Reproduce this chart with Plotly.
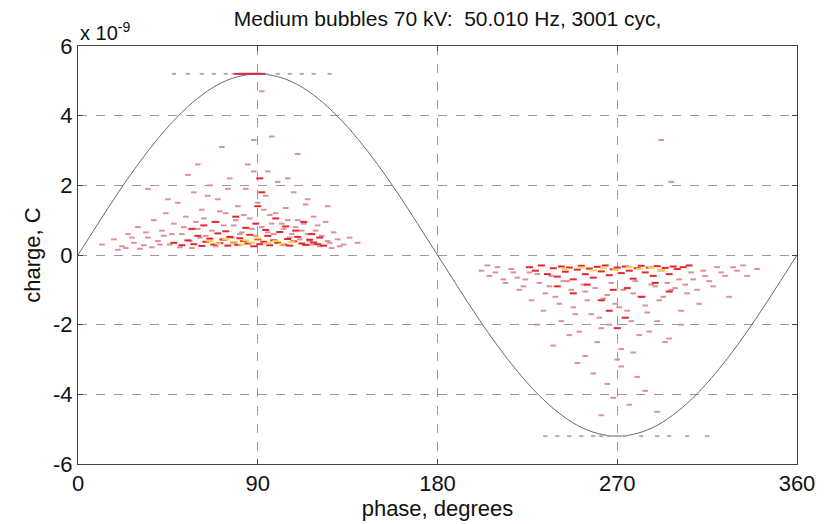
import plotly.graph_objects as go

TITLE = "Medium bubbles 70 kV:  50.010 Hz, 3001 cyc,"
X_LABEL = "phase, degrees"
Y_LABEL = "charge, C"
x_ticks = [0, 90, 180, 270, 360]
y_ticks = [-6, -4, -2, 0, 2, 4, 6]

# reference sine (charge in units of 1e-9 C)
sine_phase = [0, 10, 20, 30, 40, 50, 60, 70, 80, 90, 100, 110, 120, 130, 140, 150, 160, 170, 180,
              190, 200, 210, 220, 230, 240, 250, 260, 270, 280, 290, 300, 310, 320, 330, 340, 350, 360]
sine_charge = [0, 0.90, 1.78, 2.60, 3.34, 3.98, 4.50, 4.89, 5.12, 5.20, 5.12, 4.89, 4.50, 3.98, 3.34, 2.60, 1.78, 0.90, 0,
               -0.90, -1.78, -2.60, -3.34, -3.98, -4.50, -4.89, -5.12, -5.20, -5.12, -4.89, -4.50, -3.98, -3.34, -2.60, -1.78, -0.90, 0]

# low-count pulses (light)
light_phase = [12, 18, 22, 25, 28, 30, 33, 35, 38, 40, 42, 44, 46, 48, 50, 52, 54, 56, 58, 60, 62, 64, 66, 68, 70,
               72, 74, 76, 78, 80, 82, 84, 86, 88, 90, 92, 94, 96, 98, 100, 102, 104, 106, 108, 110, 112, 114, 116,
               118, 120, 122, 124, 126, 128, 130, 133, 136, 140,
               35, 45, 55, 65, 75, 85, 95, 105, 115, 125, 60, 72, 88, 92, 97, 110,
               20, 24, 27, 31, 34, 37, 41, 43, 47, 51, 53, 57, 59, 61, 63, 67, 69, 71, 73, 77,
               79, 81, 83, 87, 89, 93, 95, 97, 99, 103, 105, 107, 109, 111, 113, 115, 117, 119, 121, 125, 127, 131,
               202, 206, 210, 214, 218, 221, 224, 227, 230, 233, 236, 239, 242, 245, 248, 251, 254, 257, 260, 263,
               266, 269, 272, 275, 278, 281, 284, 287, 290, 293, 296, 299, 302, 305, 308, 311, 314, 318, 322, 326,
               330, 335, 340,
               230, 238, 246, 254, 262, 270, 278, 286, 294, 302, 258, 265, 272, 280, 250, 268, 276, 284, 262, 290,
               205, 209, 213, 217, 220, 223, 226, 231, 234, 237, 241, 243, 247, 249, 253, 255, 259, 261, 265, 267,
               271, 273, 277, 279, 283, 285, 289, 291, 295, 297, 301, 304, 307, 310, 313, 316, 320, 324, 328, 333,
               292, 297]
light_charge = [0.3, 0.45, 0.25, 0.6, 0.35, 0.8, 0.28, 0.5, 1.0, 0.4, 0.7, 1.2, 0.3, 0.9, 1.5, 0.6, 1.1, 0.4, 1.8,
                0.75, 1.3, 0.55, 2.0, 0.95, 1.6, 0.45, 1.2, 2.2, 0.85, 1.4, 0.65, 1.9, 1.05, 2.4, 1.5, 0.8, 1.7,
                1.15, 0.6, 2.1, 0.9, 1.35, 0.5, 1.8, 1.0, 0.7, 1.45, 0.4, 1.1, 0.85, 0.55, 0.95, 0.35, 0.65, 0.45,
                0.3, 0.5, 0.35,
                1.9, 1.6, 2.3, 1.7, 1.9, 2.6, 2.4, 2.2, 1.6, 1.4, 2.6, 3.1, 3.3, 4.7, 3.4, 2.9,
                0.15, 0.2, 0.5, 0.18, 0.65, 0.22, 0.3, 0.55, 0.6, 0.22, 0.8, 0.2, 0.95, 0.5, 1.05, 0.7, 0.25, 1.25,
                0.85, 0.5, 1.0, 0.6, 1.15, 0.75, 0.55, 1.3, 0.65, 0.9, 1.2, 0.75, 1.0, 0.6, 0.8, 0.45, 0.9, 0.6,
                0.3, 0.7, 0.25, 0.4, 0.2, 0.25,
                -0.45, -0.6, -0.35, -0.8, -0.5, -1.0, -0.7, -1.3, -0.55, -1.6, -0.9, -1.2, -1.9, -0.75, -1.5, -2.2,
                -1.05, -1.7, -2.5, -1.25, -2.0, -1.4, -2.7, -1.6, -1.1, -2.3, -1.45, -0.85, -1.9, -1.2, -2.4, -0.95,
                -1.6, -1.1, -0.7, -1.4, -0.6, -0.9, -0.5, -1.2, -0.45, -0.6, -0.4,
                -2.0, -2.6, -2.3, -2.9, -2.1, -3.0, -2.8, -2.2, -2.5, -2.0, -3.4, -3.7, -3.2, -3.5, -3.1, -4.1,
                -4.3, -3.9, -4.6, -4.5,
                -0.3, -0.5, -0.7, -0.4, -0.65, -0.9, -0.5, -0.8, -1.1, -0.6, -1.4, -0.75, -1.0, -1.7, -0.85, -1.3,
                -0.95, -1.8, -1.15, -0.8, -1.5, -1.0, -1.9, -0.75, -1.2, -1.65, -0.9, -1.3, -0.8, -1.0, -0.7, -0.85,
                -0.5, -1.0, -0.45, -0.75, -0.35, -0.6, -0.35, -0.3,
                3.3, 2.1]

# medium-count pulses (red)
red_phase = [48, 52, 55, 58, 60, 62, 64, 66, 68, 70, 71, 73, 75, 76, 78, 80, 81, 83, 85, 86, 88, 90, 91, 93, 95,
             96, 98, 100, 101, 103, 105, 106, 108, 110, 112, 114, 116, 118, 120, 123,
             57, 63, 69, 74, 79, 84, 89, 94, 99, 104, 109, 113, 117, 121, 90, 92, 91,
             226, 229, 232, 235, 238, 240, 242, 244, 246, 248, 250, 252, 254, 256, 258, 260, 262, 264, 266, 268,
             270, 272, 274, 276, 278, 280, 282, 284, 286, 288, 290, 292, 294, 296, 298, 300, 303, 306,
             240, 248, 255, 262, 268, 275, 282, 289, 296, 266, 270, 274]
red_charge = [0.35, 0.28, 0.42, 0.31, 0.55, 0.26, 0.38, 0.47, 0.30, 0.62, 0.34, 0.44, 0.27, 0.52, 0.36, 0.29, 0.48,
              0.40, 0.33, 0.58, 0.25, 0.45, 0.31, 0.38, 0.55, 0.28, 0.42, 0.35, 0.66, 0.30, 0.46, 0.27, 0.39, 0.52,
              0.33, 0.29, 0.44, 0.36, 0.31, 0.27,
              0.75, 0.85, 0.95, 0.68, 1.1, 0.78, 0.9, 0.72, 1.05, 0.82, 0.7, 0.95, 0.6, 0.5, 1.4, 1.8, 2.2,
              -0.35, -0.45, -0.3, -0.55, -0.38, -0.62, -0.33, -0.48, -0.36, -0.7, -0.42, -0.31, -0.55, -0.39, -0.65,
              -0.34, -0.47, -0.3, -0.58, -0.41, -0.36, -0.52, -0.33, -0.45, -0.68, -0.38, -0.31, -0.5, -0.36, -0.6,
              -0.32, -0.44, -0.37, -0.55, -0.33, -0.4, -0.35, -0.3,
              -0.9, -1.1, -0.85, -1.3, -1.0, -0.95, -1.2, -0.8, -1.05, -1.6, -2.1, -1.8]

# high-count pulses (yellow)
yellow_phase = [66, 70, 74, 78, 82, 84, 87, 90, 95, 99, 102, 107,
                244, 252, 258, 263, 269, 276, 281, 287, 292]
yellow_charge = [0.40, 0.33, 0.45, 0.38, 0.30, 0.42, 0.36, 0.48, 0.34, 0.40, 0.32, 0.37,
                 -0.4, -0.36, -0.44, -0.38, -0.42, -0.35, -0.4, -0.37, -0.43]

# saturated pulses at the range limit
sat_phase = [48, 55, 62, 68, 74, 78, 82, 85, 88, 91, 94, 100, 106, 112, 118, 126,
             234, 240, 246, 252, 258, 262, 266, 270, 274, 282, 290, 296, 305, 315]
sat_charge = [5.2] * 16 + [-5.2] * 14
sat_red_phase = [80, 82, 84, 86, 88, 90, 92]
sat_red_charge = [5.2, 5.2, 5.2, 5.2, 5.2, 5.2, 5.2]

FONT = "Liberation Sans, Arial, sans-serif"

fig = go.Figure()
fig.add_trace(go.Scatter(x=sine_phase, y=sine_charge, mode="lines",
                         line=dict(color="#6a6a6a", width=1, shape="spline"), hoverinfo="skip"))


def dashes(x, y, color, size=4, width=2):
    return go.Scatter(x=x, y=y, mode="markers",
                      marker=dict(symbol="line-ew", size=size, line=dict(color=color, width=width)))


fig.add_trace(dashes(sat_phase, sat_charge, "#b9a9ad", size=3, width=2))
fig.add_trace(dashes(light_phase, light_charge, "#de8f99"))
fig.add_trace(dashes(red_phase, red_charge, "#e3262c", size=5))
fig.add_trace(dashes(yellow_phase, yellow_charge, "#f6d24a", size=5))
fig.add_trace(dashes(sat_red_phase, sat_red_charge, "#d0304a", size=5, width=2))

axis_common = dict(showline=True, linecolor="#444444", linewidth=1, mirror="ticks", ticks="inside",
                   ticklen=5, tickcolor="#444444", showgrid=True, gridcolor="#9a9a9a", griddash="dash",
                   gridwidth=1, zeroline=False, tickfont=dict(family=FONT, size=22, color="#111111"))

fig.update_layout(
    width=829, height=524,
    margin=dict(l=78, r=32, t=46, b=57),
    paper_bgcolor="white", plot_bgcolor="white",
    showlegend=False,
    title=dict(text=TITLE, x=0.54, xanchor="center", y=0.965, yanchor="middle",
               font=dict(family=FONT, size=21, color="#111111")),
    xaxis=dict(range=[0, 360], tickvals=x_ticks, ticktext=[str(v) for v in x_ticks],
               title=dict(text=X_LABEL, font=dict(family=FONT, size=22, color="#111111"), standoff=0),
               **axis_common),
    yaxis=dict(range=[-6, 6], tickvals=y_ticks, ticktext=[str(v) for v in y_ticks],
               title=dict(text=Y_LABEL, font=dict(family=FONT, size=22, color="#111111"), standoff=6),
               **axis_common),
    annotations=[dict(text="x 10<sup>-9</sup>", xref="paper", yref="paper", x=0.0, y=1.0,
                      xanchor="left", yanchor="bottom", yshift=0, showarrow=False,
                      font=dict(family=FONT, size=20, color="#111111"))],
)

fig.write_html("out.html")
